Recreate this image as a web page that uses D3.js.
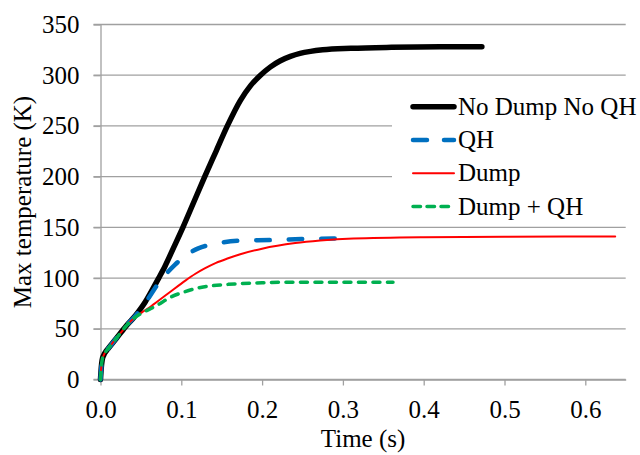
<!DOCTYPE html>
<html>
<head>
<meta charset="utf-8">
<script src="https://cdn.jsdelivr.net/npm/d3@7"></script>
<style>
  html, body { margin: 0; padding: 0; background: #fff; }
  svg { display: block; }
  text { font-family: "Liberation Serif", "Times New Roman", serif; fill: #000; }
</style>
</head>
<body>
<svg id="chart" width="640" height="455"></svg>
<script>
// ---- Data ----
const xTicks = [0.0, 0.1, 0.2, 0.3, 0.4, 0.5, 0.6];
const yTicks = [0, 50, 100, 150, 200, 250, 300, 350];
const seriesNames = ["No Dump No QH", "QH", "Dump", "Dump + QH"];

const noDumpTime = [0, 0.001, 0.002, 0.004, 0.007, 0.01, 0.015, 0.02, 0.026, 0.032, 0.04, 0.047, 0.055, 0.063, 0.072, 0.08, 0.0905, 0.102, 0.1155, 0.129, 0.143, 0.157, 0.173, 0.186, 0.198, 0.21, 0.222, 0.235, 0.247, 0.26, 0.275, 0.31, 0.36, 0.42, 0.472];
const noDumpTemp = [0, 12, 19, 24, 28, 31, 36, 41, 47, 53, 60, 67, 76, 87, 100, 112, 130, 150, 175, 200, 225, 250, 275, 290, 300, 308, 314, 318.5, 321.5, 323.5, 325, 326.5, 327.5, 328, 328];

const qhTime = [0, 0.001, 0.002, 0.004, 0.007, 0.01, 0.015, 0.02, 0.026, 0.032, 0.04, 0.047, 0.055, 0.063, 0.0716, 0.08, 0.092, 0.105, 0.121, 0.14, 0.171, 0.212, 0.249, 0.305];
const qhTemp = [0, 12, 19, 24, 28, 31, 36, 41, 47, 53, 60, 66.5, 75, 84.5, 94.8, 103, 113, 122, 129.3, 133.5, 136.8, 137.5, 138.5, 139];

const dumpTime = [0, 0.001, 0.002, 0.004, 0.007, 0.01, 0.015, 0.02, 0.026, 0.032, 0.04, 0.05, 0.063, 0.084, 0.105, 0.117, 0.129, 0.143, 0.158, 0.173, 0.2, 0.241, 0.272, 0.313, 0.4, 0.5, 0.637];
const dumpTemp = [0, 12, 19, 24, 28, 31, 36, 41, 47, 53, 59.5, 65.5, 72.5, 85, 97.5, 104, 109.5, 115, 119.5, 123.5, 129, 134.5, 137, 139, 140.3, 140.7, 141];

const dumpQhTime = [0, 0.001, 0.002, 0.004, 0.007, 0.01, 0.015, 0.02, 0.026, 0.032, 0.04, 0.05, 0.063, 0.074, 0.084, 0.1046, 0.117, 0.129, 0.158, 0.2, 0.249, 0.3, 0.362];
const dumpQhTemp = [0, 12, 19, 24, 28, 31, 36, 41, 47, 53, 59.5, 65, 70.2, 75, 80, 86.6, 89.5, 91.5, 93.8, 95.4, 96, 96, 96];

// ---- Layout ----
const svg = d3.select("#chart");
const x = d3.scaleLinear().domain([0, 0.65]).range([100.5, 625.7]);
const y = d3.scaleLinear().domain([0, 350]).range([379.5, 24.5]);
const FONT = 25;
const gridColor = "#a0a0a0";

// Gridlines (extend slightly left of the axis like tick marks)
svg.append("g").selectAll("line").data(yTicks).join("line")
  .attr("x1", x(0) - 7).attr("x2", x(0.65))
  .attr("y1", d => y(d)).attr("y2", d => y(d))
  .attr("stroke", gridColor).attr("stroke-width", 1.3);

// Y axis
const yAxis = svg.append("g").attr("transform", `translate(${x(0)},0)`)
  .call(d3.axisLeft(y).tickValues(yTicks).tickFormat(d3.format("d")).tickSize(7).tickPadding(14).tickSizeOuter(0));
yAxis.select(".domain").attr("stroke", gridColor).attr("stroke-width", 1.3);
yAxis.selectAll(".tick line").attr("stroke", gridColor).attr("stroke-width", 1.3);
yAxis.selectAll("text").style("font-size", FONT + "px").attr("fill", "#000");

// X axis
const xAxis = svg.append("g").attr("transform", `translate(0,${y(0)})`)
  .call(d3.axisBottom(x).tickValues(xTicks).tickFormat(d3.format(".1f")).tickSize(6).tickPadding(15).tickSizeOuter(0));
xAxis.select(".domain").attr("stroke", gridColor).attr("stroke-width", 1.3);
xAxis.selectAll(".tick line").attr("stroke", gridColor).attr("stroke-width", 1.3);
xAxis.selectAll("text").style("font-size", FONT + "px").attr("fill", "#000");

// Axis titles
svg.append("text")
  .attr("x", (x(0) + x(0.65)) / 2).attr("y", 447)
  .attr("text-anchor", "middle").style("font-size", FONT + "px")
  .text("Time (s)");
svg.append("text")
  .attr("transform", `translate(31,${(y(0) + y(350)) / 2}) rotate(-90)`)
  .attr("text-anchor", "middle").style("font-size", FONT + "px")
  .text("Max temperature (K)");

// Series
const line = d3.line().x(d => x(d[0])).y(d => y(d[1])).curve(d3.curveMonotoneX);
const zip = (a, b) => a.map((v, i) => [v, b[i]]);
const series = [
  { name: seriesNames[0], data: zip(noDumpTime, noDumpTemp), color: "#000000", width: 5.5, dash: null, legendDash: null },
  { name: seriesNames[1], data: zip(qhTime, qhTemp), color: "#0070C0", width: 4.5, dash: "13.5 19", legendDash: "14 17" },
  { name: seriesNames[2], data: zip(dumpTime, dumpTemp), color: "#FF0000", width: 2, dash: null, legendDash: null },
  { name: seriesNames[3], data: zip(dumpQhTime, dumpQhTemp), color: "#00B050", width: 3.5, dash: "7 7.5", legendDash: "7.5 6.5" }
];

svg.append("g").selectAll("path").data(series).join("path")
  .attr("d", d => line(d.data))
  .attr("fill", "none")
  .attr("stroke", d => d.color)
  .attr("stroke-width", d => d.width)
  .attr("stroke-linecap", "round")
  .attr("stroke-linejoin", "round")
  .attr("stroke-dasharray", d => d.dash);

// Legend
const legend = svg.append("g");
legend.append("rect").attr("x", 392).attr("y", 86).attr("width", 248).attr("height", 136).attr("fill", "#fff");
const rows = legend.selectAll("g.row").data(series).join("g").attr("class", "row")
  .attr("transform", (d, i) => `translate(0,${106.7 + i * 33.3})`);
rows.append("line")
  .attr("x1", 413).attr("x2", 454).attr("y1", 0).attr("y2", 0)
  .attr("stroke", d => d.color)
  .attr("stroke-width", d => d.width)
  .attr("stroke-linecap", "round")
  .attr("stroke-dasharray", d => d.legendDash);
rows.append("text")
  .attr("x", 458).attr("y", 0).attr("dy", "0.32em")
  .style("font-size", FONT + "px")
  .text(d => d.name);
</script>
</body>
</html>
